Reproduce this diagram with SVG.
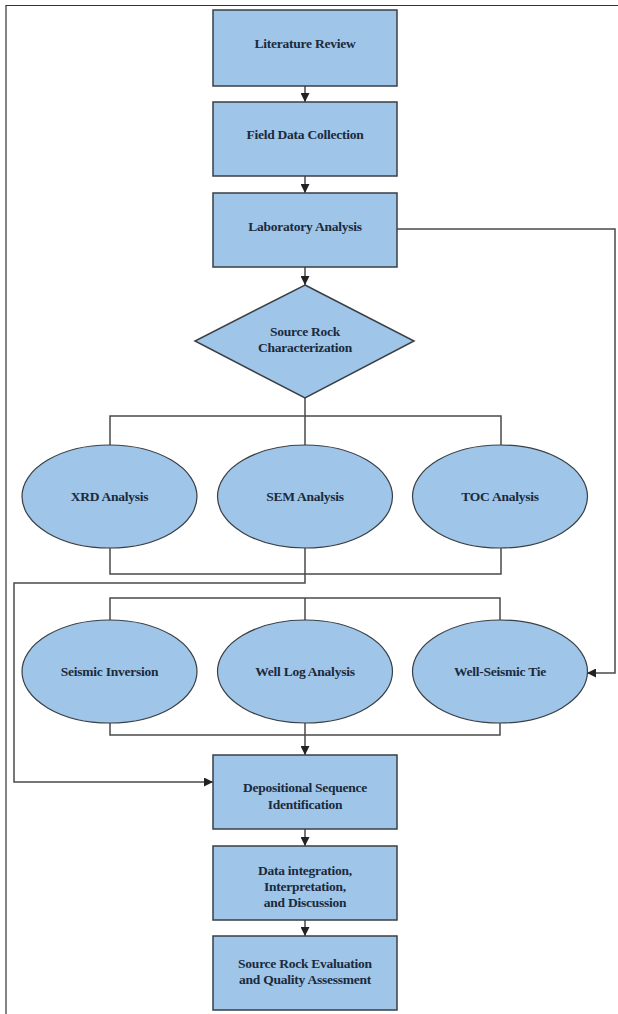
<svg xmlns="http://www.w3.org/2000/svg" width="618" height="1014" viewBox="0 0 618 1014">
<style>
.box{fill:#9fc5e8;stroke:#3a3f44;stroke-width:1.5}
.ell{fill:#9fc5e8;stroke:#3a3f44;stroke-width:1.2}
.ln{fill:none;stroke:#4a4a4a;stroke-width:1.5}
.t{font-family:"Liberation Serif",serif;font-weight:bold;font-size:13.5px;fill:#1b2a3c;text-anchor:middle;letter-spacing:-0.25px}
</style>
<defs>
<marker id="ah" viewBox="0 0 10 10" refX="10" refY="5" markerWidth="9" markerHeight="9" markerUnits="userSpaceOnUse" orient="auto">
<path d="M0,0 L10,5 L0,10 z" fill="#222"/>
</marker>
</defs>
<rect width="618" height="1014" fill="#fff"/>
<path d="M6,1014 V5.5 H618" fill="none" stroke="#333" stroke-width="1.2"/>
<g id="connectors">
<line class="ln" x1="305" y1="86" x2="305" y2="102" marker-end="url(#ah)"/>
<line class="ln" x1="305" y1="176" x2="305" y2="193" marker-end="url(#ah)"/>
<line class="ln" x1="305" y1="267" x2="305" y2="285" marker-end="url(#ah)"/>
<path class="ln" d="M397,229 H615 V673 H587" marker-end="url(#ah)"/>
<path class="ln" d="M305,398 V416 M110,445 V416 H501 V445 M305,416 V445"/>
<path class="ln" d="M110,548 V574 H501 V548 M305,548 V574"/>
<path class="ln" d="M305,574 V583 H14 V782 H213" marker-end="url(#ah)"/>
<path class="ln" d="M110,620 V598 H500 V620 M305,598 V620"/>
<path class="ln" d="M110,723 V735 H500 V723"/>
<line class="ln" x1="305" y1="723" x2="305" y2="755" marker-end="url(#ah)"/>
<line class="ln" x1="305" y1="829" x2="305" y2="846" marker-end="url(#ah)"/>
<line class="ln" x1="305" y1="920" x2="305" y2="936" marker-end="url(#ah)"/>
</g>
<g id="literature-review"><rect class="box" x="213" y="10" width="184" height="76"/><text class="t" x="305" y="48">Literature Review</text></g>
<g id="field-data"><rect class="box" x="213" y="102" width="184" height="74"/><text class="t" x="305" y="139">Field Data Collection</text></g>
<g id="lab-analysis"><rect class="box" x="213" y="193" width="184" height="74"/><text class="t" x="305" y="231">Laboratory Analysis</text></g>
<g id="source-rock-char"><polygon class="box" points="305,285 414,341 305,398 195,341"/><text class="t" x="305" y="336">Source Rock</text><text class="t" x="305" y="352">Characterization</text></g>
<g id="xrd"><ellipse class="ell" cx="109.5" cy="496.5" rx="87.5" ry="51.5"/><text class="t" x="109.5" y="501">XRD Analysis</text></g>
<g id="sem"><ellipse class="ell" cx="305" cy="496.5" rx="87.5" ry="51.5"/><text class="t" x="305" y="501">SEM Analysis</text></g>
<g id="toc"><ellipse class="ell" cx="500" cy="496.5" rx="87.5" ry="51.5"/><text class="t" x="500" y="501">TOC Analysis</text></g>
<g id="seismic-inversion"><ellipse class="ell" cx="109.5" cy="671.5" rx="87.5" ry="51.5"/><text class="t" x="109.5" y="676">Seismic Inversion</text></g>
<g id="well-log"><ellipse class="ell" cx="305" cy="671.5" rx="87.5" ry="51.5"/><text class="t" x="305" y="676">Well Log Analysis</text></g>
<g id="well-seismic-tie"><ellipse class="ell" cx="500" cy="671.5" rx="87.5" ry="51.5"/><text class="t" x="500" y="676">Well-Seismic Tie</text></g>
<g id="depositional"><rect class="box" x="213" y="755" width="184" height="74"/><text class="t" x="305" y="792">Depositional Sequence</text><text class="t" x="305" y="809">Identification</text></g>
<g id="data-integration"><rect class="box" x="213" y="846" width="184" height="74"/><text class="t" x="305" y="875">Data integration,</text><text class="t" x="305" y="891">Interpretation,</text><text class="t" x="305" y="907">and Discussion</text></g>
<g id="evaluation"><rect class="box" x="213" y="936" width="184" height="74"/><text class="t" x="305" y="968">Source Rock Evaluation</text><text class="t" x="305" y="984">and Quality Assessment</text></g>
</svg>
